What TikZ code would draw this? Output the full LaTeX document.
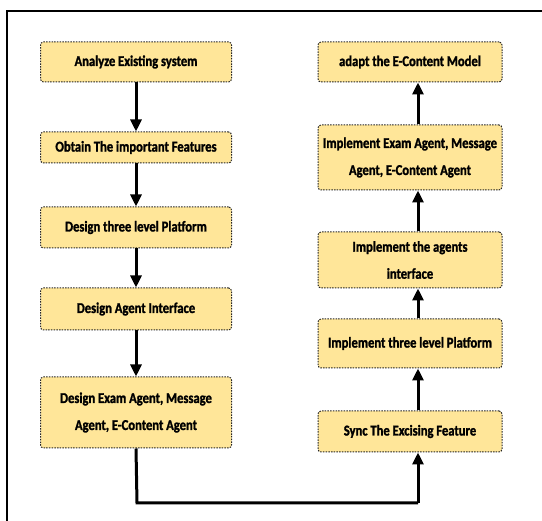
\documentclass[tikz,border=0pt]{standalone}
\usepackage{fontspec}
\setmainfont{Carlito}[FakeStretch=0.84, BoldFeatures={FakeBold=1.5}]
\usetikzlibrary{arrows.meta}
\definecolor{boxfill}{HTML}{FFE699}
\tikzset{
  stepbox/.style={draw=black!85, dash pattern=on 1.5pt off 1.2pt, line width=1pt, fill=boxfill, rounded corners=3pt,
    align=center, font=\bfseries\fontsize{15}{27}\selectfont, inner sep=2pt},
  flow/.style={line width=3pt, -{Triangle[length=12pt,width=11pt]}},
}
\begin{document}
\begin{tikzpicture}[x=1pt,y=-1pt]
\useasboundingbox (0,0) rectangle (542,521);
\draw[line width=1.5pt] (7,521) -- (7,11) -- (542,11);
% left column
\node[stepbox, minimum width=191pt, minimum height=40pt] (l1) at (136,62) {Analyze Existing system};
\node[stepbox, minimum width=191pt, minimum height=31pt] (l2) at (136,147.5) {Obtain The important Features};
\node[stepbox, minimum width=191pt, minimum height=41pt] (l3) at (136,227.5) {Design three level Platform};
\node[stepbox, minimum width=191pt, minimum height=42pt] (l4) at (136,309) {Design Agent Interface};
\node[stepbox, minimum width=191pt, minimum height=71pt] (l5) at (136,412.5) {Design Exam Agent, Message\\Agent, E-Content Agent};
% right column
\node[stepbox, minimum width=184pt, minimum height=40pt] (r1) at (410,62) {adapt the E-Content Model};
\node[stepbox, minimum width=184pt, minimum height=65pt] (r2) at (410,157.5) {Implement Exam Agent, Message\\Agent, E-Content Agent};
\node[stepbox, minimum width=184pt, minimum height=56pt] (r3) at (410,260) {Implement the agents\\interface};
\node[stepbox, minimum width=184pt, minimum height=49pt] (r4) at (410,343.5) {Implement three level Platform};
\node[stepbox, minimum width=184pt, minimum height=41pt] (r5) at (410,431.5) {Sync The Excising Feature};
\coordinate (c1) at (137,503);
\coordinate (c2) at (418,503);
% arrows
\draw[flow] (l1.south) -- (l2.north);
\draw[flow] (l2.south) -- (l3.north);
\draw[flow] (l3.south) -- (l4.north);
\draw[flow] (l4.south) -- (l5.north);
\draw[line width=3pt] (l5.south) -- (c1) -- (c2);
\draw[flow] (c2) -- (r5.south -| c2);
\draw[flow] (r5.north -| c2) -- (r4.south -| c2);
\draw[flow] (r4.north -| c2) -- (r3.south -| c2);
\draw[flow] (r3.north -| c2) -- (r2.south -| c2);
\draw[flow] (r2.north -| c2) -- (r1.south -| c2);
\end{tikzpicture}
\end{document}
